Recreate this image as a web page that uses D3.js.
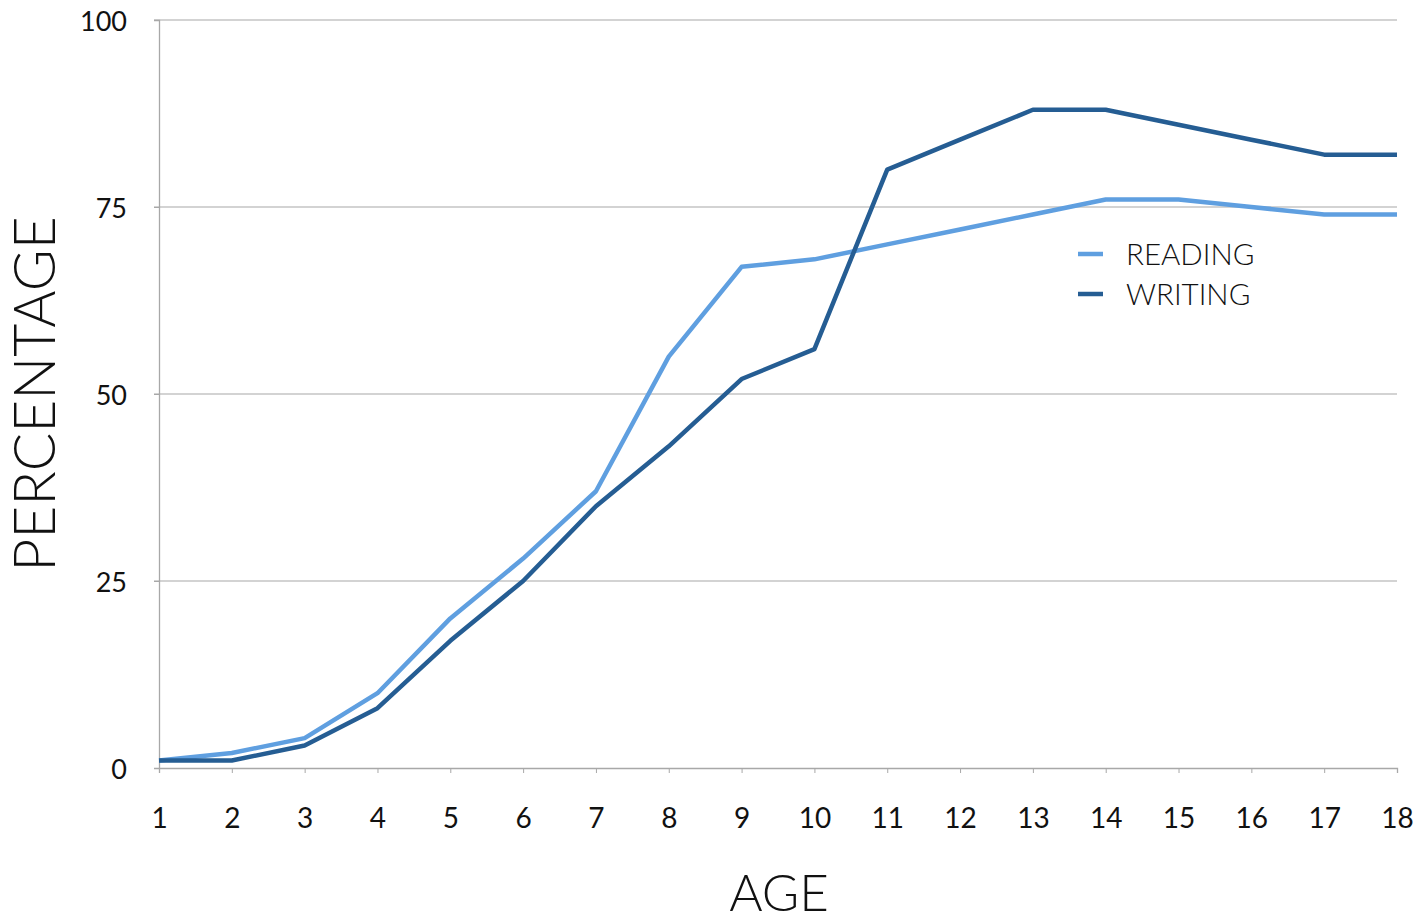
<!DOCTYPE html>
<html><head><meta charset="utf-8">
<script src="https://cdn.jsdelivr.net/npm/d3@7"></script>
<style>body{margin:0;background:#fff;}svg{display:block;}</style>
</head><body>
<svg id="c" width="1418" height="921"></svg>
<script>
const ages = [1,2,3,4,5,6,7,8,9,10,11,12,13,14,15,16,17,18];
const reading = [1,2,4,10,20,28,37,55,67,68,70,72,74,76,76,75,74,74];
const writing = [1,1,3,8,17,25,35,43,52,56,80,84,88,88,86,84,82,82];
const yTicks = [0,25,50,75,100];
const seriesNames = ["READING","WRITING"];
const seriesColors = ["#5f9fe0","#255d93"];

const svg = d3.select("#c");
const L=159, R=1397, T=20, B=768;
const x = d3.scaleLinear().domain([1,18]).range([L,R]);
const y = d3.scaleLinear().domain([0,100]).range([B,T]);
const font = "Lato, 'Open Sans', sans-serif";

// gridlines
svg.append("g").selectAll("line").data(yTicks.filter(d=>d>0)).join("line")
  .attr("x1",L-5).attr("x2",R).attr("y1",d=>y(d)).attr("y2",d=>y(d))
  .attr("stroke","#c4c4c4").attr("stroke-width",1.3);

// y axis
const ya = svg.append("g").attr("transform",`translate(${L},0)`)
  .call(d3.axisLeft(y).tickValues(yTicks).tickSize(5).tickPadding(27));
ya.select(".domain").attr("stroke","#a8a8a8").attr("stroke-width",1.3);
ya.selectAll(".tick line").attr("stroke","#a8a8a8");
ya.selectAll("text").attr("font-family",font).attr("font-size",27).attr("fill","#111").attr("dy","0.4em");

// x axis
const xa = svg.append("g").attr("transform",`translate(0,${B})`)
  .call(d3.axisBottom(x).tickValues(ages).tickSize(5).tickPadding(35).tickSizeOuter(5));
xa.select(".domain").attr("stroke","#a8a8a8").attr("stroke-width",1.3);
xa.selectAll(".tick line").attr("stroke","#a8a8a8");
xa.selectAll("text").attr("font-family",font).attr("font-size",28).attr("fill","#111");

// lines
const line = d3.line().x((d,i)=>x(ages[i])).y(d=>y(d));
[reading, writing].forEach((s,i)=>{
  svg.append("path").datum(s).attr("d",line).attr("fill","none")
    .attr("stroke",seriesColors[i]).attr("stroke-width",4.5).attr("stroke-linejoin","round");
});

// legend
const lg = svg.append("g");
seriesNames.forEach((n,i)=>{
  const yy = 254 + i*40;
  lg.append("line").attr("x1",1078).attr("x2",1103).attr("y1",yy).attr("y2",yy)
    .attr("stroke",seriesColors[i]).attr("stroke-width",4.5);
  lg.append("text").attr("x",1126).attr("y",yy).attr("dy","0.36em")
    .attr("font-family",font).attr("font-weight",300).attr("font-size",29.5).attr("fill","#111").text(n);
});

// axis titles
svg.append("text").attr("x",779).attr("y",911).attr("text-anchor","middle")
  .attr("font-family",font).attr("font-weight",300).attr("font-size",51).attr("fill","#111").text("AGE");
svg.append("text").attr("transform","translate(55,394) rotate(-90)").attr("text-anchor","middle")
  .attr("font-family",font).attr("font-weight",300).attr("font-size",57).attr("fill","#111").text("PERCENTAGE");
</script>
</body></html>
